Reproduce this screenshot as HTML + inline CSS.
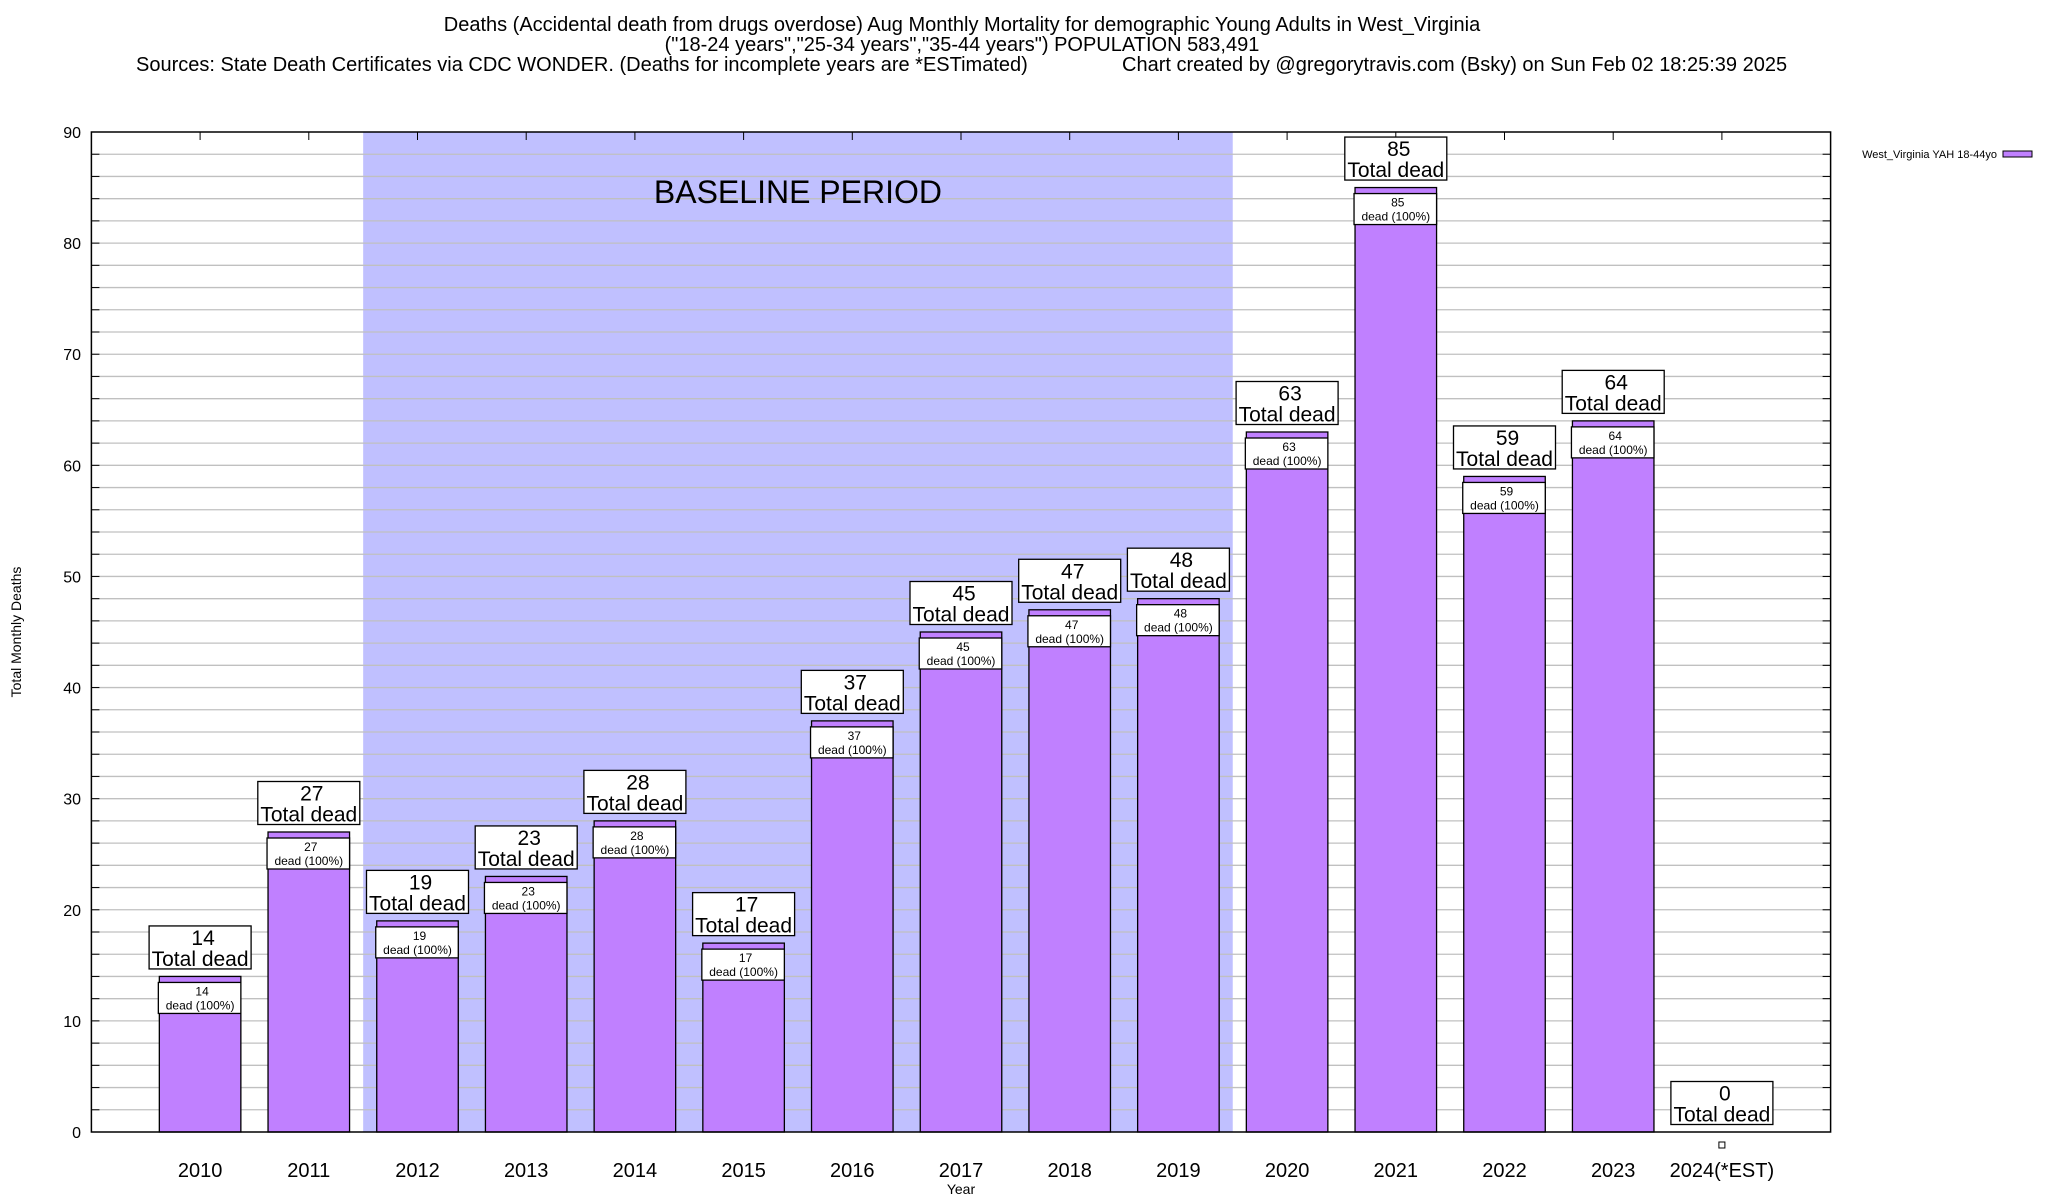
<!DOCTYPE html>
<html><head><meta charset="utf-8"><style>
body{margin:0;background:#fff;}
svg{display:block;font-family:"Liberation Sans",sans-serif;}
</style></head><body>
<svg id="chart" width="2048" height="1200" viewBox="0 0 2048 1200" xmlns="http://www.w3.org/2000/svg">
<rect x="0" y="0" width="2048" height="1200" fill="#fff"/>
<g font-size="20" text-anchor="middle" fill="#000">
<text x="962" y="31">Deaths (Accidental death from drugs overdose) Aug Monthly Mortality for demographic Young Adults in West_Virginia</text>
<text x="962" y="51">("18-24 years","25-34 years","35-44 years") POPULATION 583,491</text>
<text x="136" y="71" text-anchor="start">Sources: State Death Certificates via CDC WONDER. (Deaths for incomplete years are *ESTimated)</text>
<text x="1122" y="71" text-anchor="start">Chart created by @gregorytravis.com (Bsky) on Sun Feb 02 18:25:39 2025</text>
</g>
<g id="plot"></g>
</svg>
<script>
const categories = ["2010","2011","2012","2013","2014","2015","2016","2017","2018","2019","2020","2021","2022","2023","2024(*EST)"];
const deaths = [14,27,19,23,28,17,37,45,47,48,63,85,59,64,0];
const yTicks = [0,10,20,30,40,50,60,70,80,90];
const baselineRange = [1.5, 9.5];

const NS="http://www.w3.org/2000/svg";
const L=91.4,R=1830.6,T=132,B=1132,yMax=90;
const slot=(R-L)/(categories.length+1);
const xS=i=>L+slot*(i+1);
const yS=v=>B-(v/yMax)*(B-T);
const g=document.getElementById('plot');
function mk(tag,attrs,parent){const e=document.createElementNS(NS,tag);for(const k in attrs)e.setAttribute(k,attrs[k]);(parent||g).appendChild(e);return e;}

const sh=mk('rect',{x:xS(baselineRange[0]),y:T,width:xS(baselineRange[1])-xS(baselineRange[0]),height:B-T,fill:'#c0c0ff'});


for(let v=2;v<yMax;v+=2){
  const ln=mk('line',{x1:L,x2:R,y1:yS(v),y2:yS(v),stroke:'#c0c0c0','stroke-width':1.3});
  
  
  mk('line',{x1:L,x2:L+8,y1:yS(v),y2:yS(v),stroke:'#000','stroke-width':1});
  mk('line',{x1:R-8,x2:R,y1:yS(v),y2:yS(v),stroke:'#000','stroke-width':1});
}
const bt=mk('text',{x:(xS(baselineRange[0])+xS(baselineRange[1]))/2,y:203,'font-size':32,'text-anchor':'middle'});
bt.textContent='BASELINE PERIOD';



yTicks.forEach(v=>{
  const t=mk('text',{x:81,y:yS(v)+6,'font-size':16,'text-anchor':'end'});
  t.textContent=v;
  
  
});
categories.forEach((c,i)=>{
  const v=deaths[i];const cx=xS(i);const bw=slot*0.75;
  mk('line',{x1:cx,x2:cx,y1:T,y2:T+8,stroke:'#000','stroke-width':1});
  if(v>0){
    const r=mk('rect',{x:cx-bw/2,y:yS(v),width:bw,height:B-yS(v),fill:'#c080ff',stroke:'#000','stroke-width':1.3});
    
    
    const ib=mk('rect',{x:cx-bw/2-1,y:yS(v)+6,width:bw+1,height:31,fill:'#fff',stroke:'#000','stroke-width':1.3});
    
    
    const t1=mk('text',{x:cx+2,y:yS(v)+19,'font-size':12,'text-anchor':'middle'});t1.textContent=v;
    const t2=mk('text',{x:cx,y:yS(v)+33,'font-size':12,'text-anchor':'middle'});t2.textContent='dead (100%)';
  } else {
    const sq=mk('rect',{x:cx-3,y:B+10,width:6,height:6,fill:'#fff',stroke:'#000','stroke-width':1});
    
    
  }
  const by=yS(v)-7.5;
  const box=mk('rect',{x:cx-51,y:by-43,width:102,height:43,fill:'#fff',stroke:'#000','stroke-width':1.3});
  
  
  const a=mk('text',{x:cx+3,y:by-24,'font-size':21,'text-anchor':'middle'});a.textContent=v;
  const b=mk('text',{x:cx,y:by-3,'font-size':21,'text-anchor':'middle'});b.textContent='Total dead';
  const xl=mk('text',{x:cx,y:1177,'font-size':20,'text-anchor':'middle'});xl.textContent=c;
  
  
});
const fr=mk('rect',{x:L,y:T,width:R-L,height:B-T,fill:'none',stroke:'#000','stroke-width':1.5});


const xt=mk('text',{x:961,y:1194,'font-size':14,'text-anchor':'middle'});xt.textContent='Year';


const yt=mk('text',{x:0,y:0,'font-size':14,'text-anchor':'middle',transform:'translate(21,632) rotate(-90)'});yt.textContent='Total Monthly Deaths';


const lt=mk('text',{x:1997,y:158,'font-size':11,'text-anchor':'end'});lt.textContent='West_Virginia YAH 18-44yo';


const ls=mk('rect',{x:2003,y:151,width:29,height:6,fill:'#c080ff',stroke:'#000','stroke-width':1});


</script>
</body></html>
